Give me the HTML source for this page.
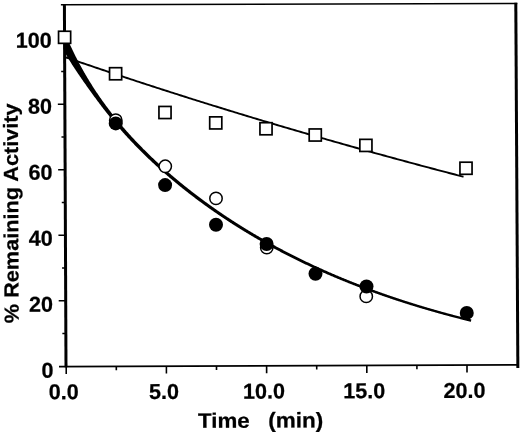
<!DOCTYPE html>
<html><head><meta charset="utf-8"><title>chart</title>
<style>html,body{margin:0;padding:0;background:#fff;}body{width:520px;height:434px;overflow:hidden;font-family:"Liberation Sans",sans-serif;}svg{display:block;}</style>
</head><body>
<svg width="520" height="434" viewBox="0 0 520 434" style="will-change:transform">
<rect width="520" height="434" fill="#fff"/>
<line x1="60.900000000000006" y1="4.71" x2="517.3" y2="3.5" stroke="#000" stroke-width="1.6"/>
<line x1="64.4" y1="4.7" x2="66.0" y2="367.3" stroke="#000" stroke-width="3"/>
<line x1="515.8" y1="2.7" x2="517.8499999999999" y2="368.0" stroke="#000" stroke-width="3"/>
<line x1="59.0" y1="366.53" x2="517.8" y2="364.8" stroke="#000" stroke-width="1.8"/>
<line x1="62.36" y1="333.46" x2="65.86" y2="333.45" stroke="#000" stroke-width="1.6"/>
<line x1="58.71" y1="300.73" x2="65.71" y2="300.70" stroke="#000" stroke-width="1.6"/>
<line x1="62.06" y1="267.96" x2="65.56" y2="267.95" stroke="#000" stroke-width="1.6"/>
<line x1="58.42" y1="235.23" x2="65.42" y2="235.20" stroke="#000" stroke-width="1.6"/>
<line x1="61.78" y1="202.46" x2="65.28" y2="202.45" stroke="#000" stroke-width="1.6"/>
<line x1="58.13" y1="169.73" x2="65.13" y2="169.70" stroke="#000" stroke-width="1.6"/>
<line x1="61.48" y1="136.96" x2="64.98" y2="136.95" stroke="#000" stroke-width="1.6"/>
<line x1="57.84" y1="104.23" x2="64.84" y2="104.20" stroke="#000" stroke-width="1.6"/>
<line x1="61.19" y1="71.46" x2="64.69" y2="71.45" stroke="#000" stroke-width="1.6"/>
<line x1="66.20" y1="366.50" x2="66.23" y2="374.00" stroke="#000" stroke-width="1.6"/>
<line x1="116.30" y1="366.31" x2="116.32" y2="370.31" stroke="#000" stroke-width="1.6"/>
<line x1="166.40" y1="366.12" x2="166.43" y2="373.62" stroke="#000" stroke-width="1.6"/>
<line x1="216.50" y1="365.94" x2="216.52" y2="369.94" stroke="#000" stroke-width="1.6"/>
<line x1="266.60" y1="365.75" x2="266.63" y2="373.25" stroke="#000" stroke-width="1.6"/>
<line x1="316.70" y1="365.56" x2="316.72" y2="369.56" stroke="#000" stroke-width="1.6"/>
<line x1="366.80" y1="365.38" x2="366.83" y2="372.88" stroke="#000" stroke-width="1.6"/>
<line x1="416.90" y1="365.19" x2="416.92" y2="369.19" stroke="#000" stroke-width="1.6"/>
<line x1="467.00" y1="365.00" x2="467.03" y2="372.50" stroke="#000" stroke-width="1.6"/>
<polyline points="65.00,57.05 67.00,57.74 69.00,58.43 71.00,59.12 73.00,59.80 75.00,60.49 77.00,61.18 79.00,61.86 81.00,62.54 83.00,63.23 85.00,63.91 87.00,64.59 89.00,65.27 91.00,65.95 93.00,66.62 95.00,67.30 97.00,67.98 99.00,68.65 101.00,69.32 103.00,70.00 105.00,70.67 107.00,71.34 109.00,72.01 111.00,72.68 113.00,73.35 115.00,74.01 117.00,74.68 119.00,75.34 121.00,76.01 123.00,76.67 125.00,77.33 127.00,77.99 129.00,78.65 131.00,79.31 133.00,79.97 135.00,80.63 137.00,81.29 139.00,81.94 141.00,82.60 143.00,83.25 145.00,83.90 147.00,84.55 149.00,85.20 151.00,85.85 153.00,86.50 155.00,87.15 157.00,87.80 159.00,88.44 161.00,89.09 163.00,89.73 165.00,90.38 167.00,91.02 169.00,91.66 171.00,92.30 173.00,92.94 175.00,93.58 177.00,94.22 179.00,94.85 181.00,95.49 183.00,96.13 185.00,96.76 187.00,97.39 189.00,98.03 191.00,98.66 193.00,99.29 195.00,99.92 197.00,100.55 199.00,101.17 201.00,101.80 203.00,102.43 205.00,103.05 207.00,103.68 209.00,104.30 211.00,104.92 213.00,105.54 215.00,106.16 217.00,106.78 219.00,107.40 221.00,108.02 223.00,108.64 225.00,109.25 227.00,109.87 229.00,110.48 231.00,111.10 233.00,111.71 235.00,112.32 237.00,112.93 239.00,113.54 241.00,114.15 243.00,114.76 245.00,115.37 247.00,115.98 249.00,116.58 251.00,117.19 253.00,117.79 255.00,118.39 257.00,118.99 259.00,119.60 261.00,120.20 263.00,120.80 265.00,121.40 267.00,121.99 269.00,122.59 271.00,123.19 273.00,123.78 275.00,124.38 277.00,124.97 279.00,125.56 281.00,126.15 283.00,126.75 285.00,127.34 287.00,127.93 289.00,128.51 291.00,129.10 293.00,129.69 295.00,130.27 297.00,130.86 299.00,131.44 301.00,132.03 303.00,132.61 305.00,133.19 307.00,133.77 309.00,134.35 311.00,134.93 313.00,135.51 315.00,136.09 317.00,136.67 319.00,137.24 321.00,137.82 323.00,138.39 325.00,138.96 327.00,139.54 329.00,140.11 331.00,140.68 333.00,141.25 335.00,141.82 337.00,142.39 339.00,142.96 341.00,143.52 343.00,144.09 345.00,144.65 347.00,145.22 349.00,145.78 351.00,146.35 353.00,146.91 355.00,147.47 357.00,148.03 359.00,148.59 361.00,149.15 363.00,149.71 365.00,150.26 367.00,150.82 369.00,151.38 371.00,151.93 373.00,152.48 375.00,153.04 377.00,153.59 379.00,154.14 381.00,154.69 383.00,155.24 385.00,155.79 387.00,156.34 389.00,156.89 391.00,157.43 393.00,157.98 395.00,158.53 397.00,159.07 399.00,159.61 401.00,160.16 403.00,160.70 405.00,161.24 407.00,161.78 409.00,162.32 411.00,162.86 413.00,163.40 415.00,163.94 417.00,164.47 419.00,165.01 421.00,165.55 423.00,166.08 425.00,166.61 427.00,167.15 429.00,167.68 431.00,168.21 433.00,168.74 435.00,169.27 437.00,169.80 439.00,170.33 441.00,170.86 443.00,171.38 445.00,171.91 447.00,172.43 449.00,172.96 451.00,173.48 453.00,174.01 455.00,174.53 457.00,175.05 459.00,175.57 461.00,176.09 463.00,176.61 463.50,176.74" fill="none" stroke="#000" stroke-width="1.9"/>
<polygon points="67.30,38.66 67.77,39.74 68.24,40.81 68.72,41.87 69.19,42.92 69.67,43.97 70.14,45.01 70.62,46.04 71.10,47.06 71.57,48.08 72.05,49.09 72.53,50.09 73.01,51.08 73.49,52.07 73.97,53.05 74.45,54.02 74.93,54.99 75.41,55.95 75.89,56.90 76.37,57.85 76.85,58.79 77.33,59.72 77.81,60.65 78.30,61.57 78.78,62.48 79.26,63.39 79.74,64.29 80.23,65.19 80.71,66.08 81.20,66.97 81.68,67.85 82.16,68.72 82.65,69.59 83.13,70.45 83.62,71.31 84.11,72.16 84.59,73.01 85.08,73.85 85.56,74.69 86.05,75.52 86.54,76.34 87.03,77.16 87.51,77.98 88.00,78.79 88.49,79.60 88.98,80.40 89.46,81.20 89.95,81.99 90.44,82.78 90.93,83.56 91.42,84.34 91.91,85.12 92.40,85.89 92.89,86.65 93.38,87.42 93.87,88.17 94.36,88.93 94.85,89.68 95.34,90.42 95.83,91.16 96.32,91.90 96.81,92.63 97.30,93.36 97.79,94.09 98.28,94.81 98.77,95.53 99.26,96.24 99.75,96.96 100.25,97.66 100.74,98.37 101.23,99.07 101.72,99.76 102.21,100.46 102.71,101.15 103.20,101.83 103.69,102.52 104.18,103.20 104.68,103.87 105.17,104.55 105.66,105.22 106.15,105.88 106.65,106.55 107.14,107.21 107.63,107.87 108.13,108.52 108.62,109.17 109.11,109.82 109.61,110.47 110.10,111.11 110.60,111.75 111.09,112.39 111.58,113.02 112.08,113.66 112.57,114.28 113.07,114.91 113.56,115.53 114.05,116.16 114.55,116.77 115.04,117.39 115.54,118.00 116.03,118.61 116.53,119.22 117.02,119.83 117.52,120.43 118.01,121.03 118.51,121.63 119.00,122.22 119.50,122.82 119.99,123.41 120.49,124.00 120.98,124.58 121.48,125.17 121.97,125.75 122.47,126.33 122.96,126.91 123.46,127.48 123.96,128.05 124.45,128.62 124.95,129.19 125.44,129.76 125.94,130.32 126.43,130.89 126.93,131.45 127.43,132.00 127.92,132.56 128.42,133.11 128.91,133.67 129.41,134.22 129.91,134.76 130.40,135.31 130.90,135.85 131.39,136.40 131.89,136.94 132.39,137.47 132.88,138.01 133.38,138.55 133.88,139.08 134.37,139.61 134.87,140.14 135.37,140.67 135.86,141.19 136.36,141.72 136.85,142.24 137.35,142.76 137.85,143.28 138.34,143.80 138.84,144.31 139.34,144.82 139.83,145.34 140.33,145.85 140.83,146.36 141.32,146.86 141.82,147.37 142.32,147.87 142.82,148.38 143.31,148.88 143.81,149.38 144.31,149.87 144.80,150.37 145.30,150.86 145.80,151.36 146.29,151.85 146.79,152.34 147.29,152.83 147.79,153.31 148.28,153.80 148.78,154.28 149.28,154.77 149.77,155.25 150.27,155.73 150.77,156.21 151.27,156.68 151.76,157.16 152.26,157.63 152.76,158.11 153.25,158.58 153.75,159.05 154.25,159.52 154.75,159.99 155.24,160.45 155.74,160.92 156.24,161.38 156.74,161.84 157.23,162.31 157.73,162.76 158.23,163.22 158.73,163.68 159.22,164.14 159.72,164.59 160.22,165.05 160.72,165.50 161.21,165.95 161.71,166.40 162.21,166.85 162.71,167.29 163.20,167.74 163.70,168.19 164.20,168.63 164.70,169.07 165.19,169.51 165.69,169.95 166.19,170.39 166.69,170.83 167.18,171.27 167.68,171.70 168.18,172.14 168.68,172.57 169.18,173.00 169.67,173.44 170.17,173.87 170.67,174.29 171.17,174.72 171.66,175.15 172.16,175.58 172.66,176.00 173.16,176.42 173.66,176.85 174.15,177.27 174.65,177.69 175.15,178.11 175.65,178.53 176.14,178.94 176.64,179.36 177.14,179.77 177.64,180.19 178.14,180.60 178.63,181.01 179.13,181.43 179.63,181.84 180.13,182.25 180.62,182.65 181.12,183.06 181.62,183.47 182.12,183.87 182.62,184.28 183.11,184.68 183.61,185.08 184.11,185.48 184.61,185.88 185.11,186.28 185.60,186.68 186.10,187.08 186.60,187.48 187.10,187.87 187.60,188.27 188.09,188.66 188.59,189.05 189.09,189.45 189.59,189.84 190.09,190.23 190.58,190.62 191.08,191.00 191.58,191.39 192.08,191.78 192.58,192.16 193.07,192.55 193.57,192.93 194.07,193.32 194.57,193.70 195.07,194.08 195.56,194.46 196.06,194.84 196.56,195.22 197.06,195.59 197.56,195.97 198.05,196.35 198.55,196.72 199.05,197.10 199.55,197.47 200.05,197.84 200.54,198.22 201.04,198.59 201.54,198.96 202.04,199.33 202.54,199.69 203.03,200.06 203.53,200.43 204.03,200.80 204.53,201.16 205.03,201.52 205.52,201.89 206.02,202.25 206.52,202.61 207.02,202.97 207.52,203.34 208.02,203.69 208.51,204.05 209.01,204.41 209.51,204.77 210.01,205.13 210.51,205.48 211.00,205.84 211.50,206.19 212.00,206.54 212.50,206.90 213.00,207.25 213.49,207.60 213.99,207.95 214.49,208.30 214.99,208.65 215.49,209.00 215.99,209.34 216.48,209.69 216.98,210.04 217.48,210.38 217.98,210.72 218.48,211.07 218.97,211.41 219.47,211.75 219.97,212.09 220.47,212.43 220.97,212.77 221.47,213.11 221.96,213.45 222.46,213.79 222.96,214.13 223.46,214.46 223.96,214.80 224.46,215.13 224.95,215.47 225.45,215.80 225.95,216.13 226.45,216.47 226.95,216.80 227.44,217.13 227.94,217.46 228.44,217.79 228.94,218.12 229.44,218.44 229.94,218.77 230.43,219.10 230.93,219.42 231.43,219.75 231.93,220.07 232.43,220.40 232.93,220.72 233.42,221.04 233.92,221.36 234.42,221.68 234.92,222.00 235.42,222.32 235.91,222.64 236.41,222.96 236.91,223.28 237.41,223.60 237.91,223.91 238.41,224.23 238.90,224.54 239.40,224.86 239.90,225.17 240.40,225.48 240.90,225.80 241.40,226.11 241.89,226.42 242.39,226.73 242.89,227.04 243.39,227.35 243.89,227.66 244.39,227.96 244.88,228.27 245.38,228.58 245.88,228.88 246.38,229.19 246.88,229.49 247.38,229.80 247.87,230.10 248.37,230.41 248.87,230.71 249.37,231.01 249.87,231.31 250.37,231.61 250.86,231.91 251.36,232.21 251.86,232.51 252.36,232.81 252.86,233.10 253.36,233.40 253.85,233.70 254.35,233.99 254.85,234.29 255.35,234.58 255.85,234.87 256.35,235.17 256.84,235.46 257.34,235.75 257.84,236.04 258.34,236.33 258.84,236.62 259.34,236.91 259.84,237.20 260.33,237.49 260.83,237.78 261.33,238.06 261.83,238.35 262.33,238.64 262.83,238.92 263.32,239.21 263.82,239.49 264.32,239.77 264.82,240.06 265.32,240.34 265.82,240.62 266.31,240.90 266.81,241.18 267.31,241.46 267.81,241.74 268.31,242.02 268.81,242.30 269.31,242.58 269.80,242.86 270.30,243.13 270.80,243.41 271.30,243.68 271.80,243.96 272.30,244.23 272.79,244.51 273.29,244.78 273.79,245.05 274.29,245.33 274.79,245.60 275.29,245.87 275.79,246.14 276.28,246.41 276.78,246.68 277.28,246.95 277.78,247.22 278.28,247.48 278.78,247.75 279.27,248.02 279.77,248.29 280.27,248.55 280.77,248.82 281.27,249.08 281.77,249.34 282.27,249.61 282.76,249.87 283.26,250.13 283.76,250.40 284.26,250.66 284.76,250.92 285.26,251.18 285.76,251.44 286.25,251.70 286.75,251.96 287.25,252.22 287.75,252.47 288.25,252.73 288.75,252.99 289.25,253.24 289.74,253.50 290.24,253.75 290.74,254.01 291.24,254.26 291.74,254.52 292.24,254.77 292.74,255.02 293.23,255.27 293.73,255.53 294.23,255.78 294.73,256.03 295.23,256.28 295.73,256.53 296.23,256.78 296.72,257.03 297.22,257.27 297.72,257.52 298.22,257.77 298.72,258.01 299.22,258.26 299.72,258.51 300.21,258.75 300.71,259.00 301.21,259.24 301.71,259.48 302.21,259.73 302.71,259.97 303.21,260.21 303.70,260.45 304.20,260.70 304.70,260.94 305.20,261.18 305.70,261.42 306.20,261.65 306.70,261.89 307.19,262.13 307.69,262.37 308.19,262.61 308.69,262.84 309.19,263.08 309.69,263.32 310.19,263.55 310.69,263.79 311.18,264.02 311.68,264.26 312.18,264.49 312.68,264.72 313.18,264.95 313.68,265.19 314.18,265.42 314.67,265.65 315.17,265.88 315.67,266.11 316.17,266.34 316.67,266.57 317.17,266.80 317.67,267.03 318.17,267.26 318.66,267.48 319.16,267.71 319.66,267.94 320.16,268.16 320.66,268.39 321.16,268.61 321.66,268.84 322.16,269.06 322.65,269.29 323.15,269.51 323.65,269.73 324.15,269.96 324.65,270.18 325.15,270.40 325.65,270.62 326.15,270.84 326.64,271.06 327.14,271.28 327.64,271.50 328.14,271.72 328.64,271.94 329.14,272.16 329.64,272.38 330.14,272.59 330.63,272.81 331.13,273.03 331.63,273.24 332.13,273.46 332.63,273.67 333.13,273.89 333.63,274.10 334.13,274.32 334.62,274.53 335.12,274.74 335.62,274.95 336.12,275.17 336.62,275.38 337.12,275.59 337.62,275.80 338.12,276.01 338.61,276.22 339.11,276.43 339.61,276.64 340.11,276.85 340.61,277.06 341.11,277.26 341.61,277.47 342.11,277.68 342.61,277.89 343.10,278.09 343.60,278.30 344.10,278.50 344.60,278.71 345.10,278.91 345.60,279.12 346.10,279.32 346.60,279.52 347.09,279.73 347.59,279.93 348.09,280.13 348.59,280.33 349.09,280.54 349.59,280.74 350.09,280.94 350.59,281.14 351.09,281.34 351.58,281.54 352.08,281.73 352.58,281.93 353.08,282.13 353.58,282.33 354.08,282.53 354.58,282.72 355.08,282.92 355.58,283.12 356.07,283.31 356.57,283.51 357.07,283.70 357.57,283.90 358.07,284.09 358.57,284.29 359.07,284.48 359.57,284.67 360.07,284.86 360.56,285.06 361.06,285.25 361.56,285.44 362.06,285.63 362.56,285.82 363.06,286.01 363.56,286.20 364.06,286.39 364.56,286.58 365.05,286.77 365.55,286.96 366.05,287.15 366.55,287.33 367.05,287.52 367.55,287.71 368.05,287.90 368.55,288.08 369.05,288.27 369.55,288.45 370.04,288.64 370.54,288.82 371.04,289.01 371.54,289.19 372.04,289.37 372.54,289.56 373.04,289.74 373.54,289.92 374.04,290.11 374.54,290.29 375.03,290.47 375.53,290.65 376.03,290.83 376.53,291.01 377.03,291.19 377.53,291.37 378.03,291.55 378.53,291.73 379.03,291.91 379.53,292.09 380.02,292.26 380.52,292.44 381.02,292.62 381.52,292.79 382.02,292.97 382.52,293.15 383.02,293.32 383.52,293.50 384.02,293.67 384.52,293.85 385.01,294.02 385.51,294.20 386.01,294.37 386.51,294.54 387.01,294.72 387.51,294.89 388.01,295.06 388.51,295.23 389.01,295.40 389.51,295.58 390.01,295.75 390.50,295.92 391.00,296.09 391.50,296.26 392.00,296.43 392.50,296.60 393.00,296.76 393.50,296.93 394.00,297.10 394.50,297.27 395.00,297.44 395.49,297.60 395.99,297.77 396.49,297.94 396.99,298.10 397.49,298.27 397.99,298.43 398.49,298.60 398.99,298.76 399.49,298.93 399.99,299.09 400.49,299.26 400.99,299.42 401.48,299.58 401.98,299.75 402.48,299.91 402.98,300.07 403.48,300.23 403.98,300.39 404.48,300.55 404.98,300.72 405.48,300.88 405.98,301.04 406.48,301.20 406.97,301.36 407.47,301.52 407.97,301.67 408.47,301.83 408.97,301.99 409.47,302.15 409.97,302.31 410.47,302.46 410.97,302.62 411.47,302.78 411.97,302.93 412.47,303.09 412.96,303.25 413.46,303.40 413.96,303.56 414.46,303.71 414.96,303.87 415.46,304.02 415.96,304.17 416.46,304.33 416.96,304.48 417.46,304.63 417.96,304.79 418.46,304.94 418.95,305.09 419.45,305.24 419.95,305.40 420.45,305.55 420.95,305.70 421.45,305.85 421.95,306.00 422.45,306.15 422.95,306.30 423.45,306.45 423.95,306.60 424.45,306.75 424.94,306.89 425.44,307.04 425.94,307.19 426.44,307.34 426.94,307.48 427.44,307.63 427.94,307.78 428.44,307.92 428.94,308.07 429.44,308.22 429.94,308.36 430.44,308.51 430.94,308.65 431.43,308.80 431.93,308.94 432.43,309.09 432.93,309.23 433.43,309.37 433.93,309.52 434.43,309.66 434.93,309.80 435.43,309.94 435.93,310.09 436.43,310.23 436.93,310.37 437.43,310.51 437.93,310.65 438.42,310.79 438.92,310.93 439.42,311.07 439.92,311.21 440.42,311.35 440.92,311.49 441.42,311.63 441.92,311.77 442.42,311.91 442.92,312.05 443.42,312.18 443.92,312.32 444.42,312.46 444.92,312.60 445.41,312.73 445.91,312.87 446.41,313.00 446.91,313.14 447.41,313.28 447.91,313.41 448.41,313.55 448.91,313.68 449.41,313.82 449.91,313.95 450.41,314.08 450.91,314.22 451.41,314.35 451.91,314.49 452.40,314.62 452.90,314.75 453.40,314.88 453.90,315.02 454.40,315.15 454.90,315.28 455.40,315.41 455.90,315.54 456.40,315.67 456.90,315.80 457.40,315.93 457.90,316.06 458.40,316.19 458.90,316.32 459.40,316.45 459.89,316.58 460.39,316.71 460.89,316.84 461.39,316.97 461.89,317.09 462.39,317.22 462.89,317.35 463.39,317.48 463.89,317.60 464.39,317.73 464.89,317.86 465.39,317.98 465.89,318.11 466.39,318.24 466.89,318.36 467.38,318.49 467.88,318.61 468.38,318.74 468.88,318.86 469.38,318.98 469.88,319.11 470.38,319.23 470.88,319.36 471.38,319.48 470.82,321.76 470.32,321.63 469.82,321.51 469.32,321.39 468.82,321.26 468.32,321.14 467.82,321.02 467.32,320.89 466.82,320.77 466.31,320.64 465.81,320.52 465.31,320.39 464.81,320.27 464.31,320.14 463.81,320.02 463.31,319.89 462.81,319.76 462.31,319.64 461.81,319.51 461.31,319.38 460.81,319.26 460.31,319.13 459.81,319.00 459.31,318.87 458.80,318.74 458.30,318.61 457.80,318.48 457.30,318.36 456.80,318.23 456.30,318.10 455.80,317.97 455.30,317.84 454.80,317.71 454.30,317.57 453.80,317.44 453.30,317.31 452.80,317.18 452.30,317.05 451.80,316.92 451.29,316.78 450.79,316.65 450.29,316.52 449.79,316.38 449.29,316.25 448.79,316.12 448.29,315.98 447.79,315.85 447.29,315.71 446.79,315.58 446.29,315.44 445.79,315.31 445.29,315.17 444.79,315.04 444.28,314.90 443.78,314.77 443.28,314.63 442.78,314.49 442.28,314.35 441.78,314.22 441.28,314.08 440.78,313.94 440.28,313.80 439.78,313.66 439.28,313.52 438.78,313.39 438.28,313.25 437.78,313.11 437.27,312.97 436.77,312.83 436.27,312.69 435.77,312.54 435.27,312.40 434.77,312.26 434.27,312.12 433.77,311.98 433.27,311.84 432.77,311.69 432.27,311.55 431.77,311.41 431.27,311.26 430.77,311.12 430.26,310.98 429.76,310.83 429.26,310.69 428.76,310.54 428.26,310.40 427.76,310.25 427.26,310.10 426.76,309.96 426.26,309.81 425.76,309.67 425.26,309.52 424.76,309.37 424.26,309.22 423.75,309.08 423.25,308.93 422.75,308.78 422.25,308.63 421.75,308.48 421.25,308.33 420.75,308.18 420.25,308.03 419.75,307.88 419.25,307.73 418.75,307.58 418.25,307.43 417.74,307.28 417.24,307.13 416.74,306.98 416.24,306.82 415.74,306.67 415.24,306.52 414.74,306.36 414.24,306.21 413.74,306.06 413.24,305.90 412.74,305.75 412.24,305.59 411.73,305.44 411.23,305.28 410.73,305.13 410.23,304.97 409.73,304.81 409.23,304.66 408.73,304.50 408.23,304.34 407.73,304.19 407.23,304.03 406.73,303.87 406.23,303.71 405.72,303.55 405.22,303.39 404.72,303.23 404.22,303.07 403.72,302.91 403.22,302.75 402.72,302.59 402.22,302.43 401.72,302.27 401.22,302.11 400.72,301.94 400.21,301.78 399.71,301.62 399.21,301.46 398.71,301.29 398.21,301.13 397.71,300.97 397.21,300.80 396.71,300.64 396.21,300.47 395.71,300.31 395.21,300.14 394.71,299.97 394.20,299.81 393.70,299.64 393.20,299.47 392.70,299.31 392.20,299.14 391.70,298.97 391.20,298.80 390.70,298.63 390.20,298.46 389.70,298.29 389.19,298.12 388.69,297.95 388.19,297.78 387.69,297.61 387.19,297.44 386.69,297.27 386.19,297.10 385.69,296.93 385.19,296.75 384.69,296.58 384.19,296.41 383.68,296.23 383.18,296.06 382.68,295.89 382.18,295.71 381.68,295.54 381.18,295.36 380.68,295.19 380.18,295.01 379.68,294.83 379.18,294.66 378.67,294.48 378.17,294.30 377.67,294.12 377.17,293.95 376.67,293.77 376.17,293.59 375.67,293.41 375.17,293.23 374.67,293.05 374.17,292.87 373.66,292.69 373.16,292.51 372.66,292.33 372.16,292.14 371.66,291.96 371.16,291.78 370.66,291.60 370.16,291.41 369.66,291.23 369.16,291.05 368.65,290.86 368.15,290.68 367.65,290.49 367.15,290.31 366.65,290.12 366.15,289.93 365.65,289.75 365.15,289.56 364.65,289.37 364.15,289.19 363.64,289.00 363.14,288.81 362.64,288.62 362.14,288.43 361.64,288.24 361.14,288.05 360.64,287.86 360.14,287.67 359.64,287.48 359.13,287.29 358.63,287.10 358.13,286.90 357.63,286.71 357.13,286.52 356.63,286.32 356.13,286.13 355.63,285.94 355.13,285.74 354.62,285.55 354.12,285.35 353.62,285.16 353.12,284.96 352.62,284.76 352.12,284.57 351.62,284.37 351.12,284.17 350.62,283.97 350.11,283.77 349.61,283.58 349.11,283.38 348.61,283.18 348.11,282.98 347.61,282.78 347.11,282.57 346.61,282.37 346.11,282.17 345.60,281.97 345.10,281.77 344.60,281.56 344.10,281.36 343.60,281.16 343.10,280.95 342.60,280.75 342.10,280.54 341.59,280.34 341.09,280.13 340.59,279.92 340.09,279.72 339.59,279.51 339.09,279.30 338.59,279.09 338.09,278.89 337.59,278.68 337.08,278.47 336.58,278.26 336.08,278.05 335.58,277.84 335.08,277.63 334.58,277.42 334.08,277.20 333.58,276.99 333.07,276.78 332.57,276.57 332.07,276.35 331.57,276.14 331.07,275.92 330.57,275.71 330.07,275.49 329.57,275.28 329.06,275.06 328.56,274.85 328.06,274.63 327.56,274.41 327.06,274.19 326.56,273.98 326.06,273.76 325.56,273.54 325.05,273.32 324.55,273.10 324.05,272.88 323.55,272.66 323.05,272.43 322.55,272.21 322.05,271.99 321.55,271.77 321.04,271.54 320.54,271.32 320.04,271.10 319.54,270.87 319.04,270.65 318.54,270.42 318.04,270.20 317.54,269.97 317.03,269.74 316.53,269.52 316.03,269.29 315.53,269.06 315.03,268.83 314.53,268.60 314.03,268.37 313.53,268.14 313.02,267.91 312.52,267.68 312.02,267.45 311.52,267.22 311.02,266.98 310.52,266.75 310.02,266.52 309.51,266.28 309.01,266.05 308.51,265.81 308.01,265.58 307.51,265.34 307.01,265.11 306.51,264.87 306.01,264.63 305.50,264.40 305.00,264.16 304.50,263.92 304.00,263.68 303.50,263.44 303.00,263.20 302.50,262.96 301.99,262.72 301.49,262.48 300.99,262.24 300.49,261.99 299.99,261.75 299.49,261.51 298.99,261.26 298.48,261.02 297.98,260.77 297.48,260.53 296.98,260.28 296.48,260.03 295.98,259.79 295.48,259.54 294.97,259.29 294.47,259.04 293.97,258.79 293.47,258.55 292.97,258.30 292.47,258.04 291.97,257.79 291.46,257.54 290.96,257.29 290.46,257.04 289.96,256.78 289.46,256.53 288.96,256.28 288.46,256.02 287.95,255.77 287.45,255.51 286.95,255.26 286.45,255.00 285.95,254.74 285.45,254.48 284.95,254.23 284.44,253.97 283.94,253.71 283.44,253.45 282.94,253.19 282.44,252.93 281.94,252.66 281.44,252.40 280.93,252.14 280.43,251.88 279.93,251.61 279.43,251.35 278.93,251.08 278.43,250.82 277.93,250.55 277.42,250.29 276.92,250.02 276.42,249.75 275.92,249.48 275.42,249.22 274.92,248.95 274.41,248.68 273.91,248.41 273.41,248.14 272.91,247.86 272.41,247.59 271.91,247.32 271.41,247.05 270.90,246.77 270.40,246.50 269.90,246.23 269.40,245.95 268.90,245.67 268.40,245.40 267.89,245.12 267.39,244.84 266.89,244.57 266.39,244.29 265.89,244.01 265.39,243.73 264.89,243.45 264.38,243.17 263.88,242.89 263.38,242.60 262.88,242.32 262.38,242.04 261.88,241.75 261.37,241.47 260.87,241.18 260.37,240.90 259.87,240.61 259.37,240.33 258.87,240.04 258.36,239.75 257.86,239.46 257.36,239.17 256.86,238.88 256.36,238.59 255.86,238.30 255.36,238.01 254.85,237.72 254.35,237.43 253.85,237.13 253.35,236.84 252.85,236.54 252.35,236.25 251.84,235.95 251.34,235.66 250.84,235.36 250.34,235.06 249.84,234.76 249.34,234.46 248.83,234.16 248.33,233.86 247.83,233.56 247.33,233.26 246.83,232.96 246.33,232.66 245.82,232.35 245.32,232.05 244.82,231.75 244.32,231.44 243.82,231.13 243.32,230.83 242.81,230.52 242.31,230.21 241.81,229.90 241.31,229.60 240.81,229.29 240.31,228.98 239.80,228.66 239.30,228.35 238.80,228.04 238.30,227.73 237.80,227.41 237.30,227.10 236.79,226.78 236.29,226.47 235.79,226.15 235.29,225.84 234.79,225.52 234.29,225.20 233.78,224.88 233.28,224.56 232.78,224.24 232.28,223.92 231.78,223.60 231.27,223.28 230.77,222.95 230.27,222.63 229.77,222.30 229.27,221.98 228.77,221.65 228.26,221.33 227.76,221.00 227.26,220.67 226.76,220.34 226.26,220.01 225.76,219.68 225.25,219.35 224.75,219.02 224.25,218.69 223.75,218.36 223.25,218.02 222.74,217.69 222.24,217.35 221.74,217.02 221.24,216.68 220.74,216.35 220.24,216.01 219.73,215.67 219.23,215.33 218.73,214.99 218.23,214.65 217.73,214.31 217.23,213.96 216.72,213.62 216.22,213.28 215.72,212.93 215.22,212.59 214.72,212.24 214.21,211.89 213.71,211.55 213.21,211.20 212.71,210.85 212.21,210.50 211.71,210.15 211.20,209.80 210.70,209.45 210.20,209.09 209.70,208.74 209.20,208.38 208.69,208.03 208.19,207.67 207.69,207.32 207.19,206.96 206.69,206.60 206.18,206.24 205.68,205.88 205.18,205.52 204.68,205.16 204.18,204.80 203.68,204.43 203.17,204.07 202.67,203.70 202.17,203.34 201.67,202.97 201.17,202.60 200.66,202.24 200.16,201.87 199.66,201.50 199.16,201.13 198.66,200.75 198.15,200.38 197.65,200.01 197.15,199.63 196.65,199.26 196.15,198.88 195.64,198.51 195.14,198.13 194.64,197.75 194.14,197.37 193.64,196.99 193.13,196.61 192.63,196.23 192.13,195.85 191.63,195.46 191.13,195.08 190.62,194.69 190.12,194.31 189.62,193.92 189.12,193.53 188.62,193.14 188.11,192.75 187.61,192.36 187.11,191.97 186.61,191.58 186.11,191.18 185.60,190.79 185.10,190.39 184.60,190.00 184.10,189.60 183.60,189.20 183.09,188.80 182.59,188.40 182.09,188.00 181.59,187.60 181.09,187.19 180.58,186.79 180.08,186.39 179.58,185.98 179.08,185.57 178.58,185.16 178.07,184.75 177.57,184.34 177.07,183.93 176.57,183.52 176.06,183.11 175.56,182.69 175.06,182.28 174.56,181.86 174.06,181.45 173.55,181.03 173.05,180.61 172.55,180.19 172.05,179.77 171.54,179.34 171.04,178.92 170.54,178.49 170.04,178.07 169.54,177.64 169.03,177.21 168.53,176.79 168.03,176.36 167.53,175.92 167.02,175.49 166.52,175.06 166.02,174.62 165.52,174.19 165.02,173.75 164.51,173.31 164.01,172.87 163.51,172.43 163.01,171.99 162.50,171.55 162.00,171.11 161.50,170.66 161.00,170.21 160.49,169.77 159.99,169.32 159.49,168.87 158.99,168.42 158.48,167.97 157.98,167.51 157.48,167.06 156.98,166.60 156.47,166.14 155.97,165.68 155.47,165.23 154.97,164.76 154.46,164.30 153.96,163.84 153.46,163.37 152.96,162.91 152.45,162.44 151.95,161.97 151.45,161.50 150.95,161.03 150.44,160.56 149.94,160.08 149.44,159.60 148.93,159.13 148.43,158.65 147.93,158.17 147.43,157.69 146.92,157.21 146.42,156.72 145.92,156.24 145.41,155.75 144.91,155.26 144.41,154.77 143.91,154.28 143.40,153.79 142.90,153.29 142.40,152.79 141.89,152.30 141.39,151.80 140.89,151.30 140.38,150.80 139.88,150.29 139.38,149.79 138.88,149.28 138.37,148.77 137.87,148.26 137.37,147.75 136.86,147.23 136.36,146.72 135.86,146.20 135.35,145.68 134.85,145.16 134.35,144.64 133.84,144.12 133.34,143.59 132.83,143.07 132.33,142.54 131.83,142.01 131.32,141.47 130.82,140.94 130.32,140.40 129.81,139.87 129.31,139.33 128.81,138.78 128.30,138.24 127.80,137.69 127.29,137.15 126.79,136.60 126.29,136.05 125.78,135.49 125.28,134.94 124.77,134.38 124.27,133.82 123.77,133.26 123.26,132.70 122.76,132.13 122.25,131.56 121.75,130.99 121.24,130.42 120.74,129.85 120.23,129.27 119.73,128.69 119.23,128.11 118.72,127.53 118.22,126.94 117.71,126.36 117.21,125.77 116.70,125.17 116.19,124.58 115.69,123.98 115.18,123.38 114.68,122.78 114.17,122.18 113.67,121.57 113.16,120.96 112.65,120.35 112.15,119.74 111.64,119.12 111.13,118.50 110.63,117.88 110.12,117.26 109.61,116.63 109.11,116.00 108.60,115.37 108.09,114.73 107.58,114.09 107.07,113.45 106.56,112.81 106.05,112.16 105.54,111.51 105.03,110.86 104.52,110.20 104.01,109.55 103.50,108.88 102.99,108.22 102.47,107.55 101.96,106.88 101.44,106.21 100.93,105.53 100.41,104.85 99.90,104.17 99.38,103.48 98.86,102.79 98.34,102.10 97.82,101.40 97.30,100.70 96.78,100.00 96.25,99.29 95.73,98.58 95.20,97.86 94.67,97.14 94.14,96.42 93.61,95.70 93.08,94.97 92.55,94.23 92.01,93.50 91.48,92.76 90.94,92.01 90.40,91.26 89.86,90.51 89.31,89.75 88.77,88.99 88.22,88.23 87.67,87.46 87.12,86.68 86.57,85.91 86.01,85.12 85.46,84.34 84.90,83.54 84.34,82.75 83.78,81.95 83.21,81.14 82.65,80.33 82.08,79.52 81.51,78.70 80.94,77.87 80.37,77.04 79.80,76.21 79.23,75.37 78.65,74.53 78.07,73.68 77.50,72.82 76.92,71.96 76.34,71.09 75.76,70.22 75.18,69.35 74.60,68.46 74.02,67.57 73.44,66.68 72.86,65.78 72.28,64.88 71.70,63.96 71.12,63.05 70.54,62.12 69.97,61.19 69.39,60.26 68.82,59.31 68.25,58.36 67.68,57.41 67.11,56.45 66.54,55.48 65.98,54.50 65.42,53.52 64.86,52.53 64.30,51.53 64.00,50.53 64.00,49.52 64.00,48.50 64.00,47.47 64.00,46.44 64.00,45.40 64.00,44.35 64.00,43.29 64.00,42.23 64.00,41.16" fill="#000"/>
<rect x="58.55" y="31.25" width="12.10" height="12.10" fill="#fff" stroke="#000" stroke-width="1.7"/>
<rect x="109.55" y="67.70" width="12.10" height="12.10" fill="#fff" stroke="#000" stroke-width="1.7"/>
<rect x="158.95" y="106.45" width="12.10" height="12.10" fill="#fff" stroke="#000" stroke-width="1.7"/>
<rect x="209.70" y="116.85" width="12.10" height="12.10" fill="#fff" stroke="#000" stroke-width="1.7"/>
<rect x="259.95" y="122.70" width="12.10" height="12.10" fill="#fff" stroke="#000" stroke-width="1.7"/>
<rect x="309.20" y="128.95" width="12.10" height="12.10" fill="#fff" stroke="#000" stroke-width="1.7"/>
<rect x="359.85" y="139.35" width="12.10" height="12.10" fill="#fff" stroke="#000" stroke-width="1.7"/>
<rect x="459.95" y="162.20" width="12.10" height="12.10" fill="#fff" stroke="#000" stroke-width="1.7"/>
<circle cx="115.75" cy="120.20" r="6.20" fill="#fff" stroke="#000" stroke-width="1.5"/>
<circle cx="115.75" cy="123.40" r="7.00" fill="#000"/>
<circle cx="165.25" cy="166.30" r="6.20" fill="#fff" stroke="#000" stroke-width="1.5"/>
<circle cx="165.10" cy="185.10" r="7.00" fill="#000"/>
<circle cx="216.00" cy="198.40" r="6.20" fill="#fff" stroke="#000" stroke-width="1.5"/>
<circle cx="216.00" cy="224.80" r="7.00" fill="#000"/>
<circle cx="266.75" cy="247.60" r="6.20" fill="#fff" stroke="#000" stroke-width="1.5"/>
<circle cx="266.60" cy="244.00" r="7.00" fill="#000"/>
<circle cx="315.50" cy="273.75" r="7.00" fill="#000"/>
<circle cx="366.25" cy="296.40" r="6.20" fill="#fff" stroke="#000" stroke-width="1.5"/>
<circle cx="366.50" cy="286.50" r="7.00" fill="#000"/>
<circle cx="466.75" cy="312.90" r="7.00" fill="#000"/>
<text font-family="Liberation Sans, sans-serif" font-weight="bold" stroke="#000" stroke-width="0.25" stroke-linejoin="round" font-size="21.6" text-anchor="end" transform="translate(53.40 377.70) rotate(-0.25) scale(1.0 1.0)">0</text>
<text font-family="Liberation Sans, sans-serif" font-weight="bold" stroke="#000" stroke-width="0.25" stroke-linejoin="round" font-size="21.6" text-anchor="end" transform="translate(53.07 311.70) rotate(-0.25) scale(1.0 1.0)">20</text>
<text font-family="Liberation Sans, sans-serif" font-weight="bold" stroke="#000" stroke-width="0.25" stroke-linejoin="round" font-size="21.6" text-anchor="end" transform="translate(52.74 245.70) rotate(-0.25) scale(1.0 1.0)">40</text>
<text font-family="Liberation Sans, sans-serif" font-weight="bold" stroke="#000" stroke-width="0.25" stroke-linejoin="round" font-size="21.6" text-anchor="end" transform="translate(52.41 179.70) rotate(-0.25) scale(1.0 1.0)">60</text>
<text font-family="Liberation Sans, sans-serif" font-weight="bold" stroke="#000" stroke-width="0.25" stroke-linejoin="round" font-size="21.6" text-anchor="end" transform="translate(52.08 113.70) rotate(-0.25) scale(1.0 1.0)">80</text>
<text font-family="Liberation Sans, sans-serif" font-weight="bold" stroke="#000" stroke-width="0.25" stroke-linejoin="round" font-size="21.6" text-anchor="end" transform="translate(51.75 47.70) rotate(-0.25) scale(1.0 1.0)">100</text>
<text font-family="Liberation Sans, sans-serif" font-weight="bold" stroke="#000" stroke-width="0.25" stroke-linejoin="round" font-size="21.6" text-anchor="middle" transform="translate(63.70 399.30) rotate(-0.25) scale(1.0 1.0)">0.0</text>
<text font-family="Liberation Sans, sans-serif" font-weight="bold" stroke="#000" stroke-width="0.25" stroke-linejoin="round" font-size="21.6" text-anchor="middle" transform="translate(163.90 398.95) rotate(-0.25) scale(1.0 1.0)">5.0</text>
<text font-family="Liberation Sans, sans-serif" font-weight="bold" stroke="#000" stroke-width="0.25" stroke-linejoin="round" font-size="21.6" text-anchor="middle" transform="translate(264.10 398.60) rotate(-0.25) scale(1.0 1.0)">10.0</text>
<text font-family="Liberation Sans, sans-serif" font-weight="bold" stroke="#000" stroke-width="0.25" stroke-linejoin="round" font-size="21.6" text-anchor="middle" transform="translate(364.30 398.25) rotate(-0.25) scale(1.0 1.0)">15.0</text>
<text font-family="Liberation Sans, sans-serif" font-weight="bold" stroke="#000" stroke-width="0.25" stroke-linejoin="round" font-size="21.6" text-anchor="middle" transform="translate(464.50 397.90) rotate(-0.25) scale(1.0 1.0)">20.0</text>
<text font-family="Liberation Sans, sans-serif" font-weight="bold" stroke="#000" stroke-width="0.25" stroke-linejoin="round" font-size="21.4" text-anchor="start" transform="translate(198.00 427.80) rotate(-0.25) scale(1.045 0.97)">Time</text>
<text font-family="Liberation Sans, sans-serif" font-weight="bold" stroke="#000" stroke-width="0.25" stroke-linejoin="round" font-size="21.4" text-anchor="start" transform="translate(268.20 427.60) rotate(-0.25) scale(1.055 1.0)">(min)</text>
<text font-family="Liberation Sans, sans-serif" font-weight="bold" stroke="#000" stroke-width="0.25" stroke-linejoin="round" font-size="21.7" text-anchor="middle" transform="translate(18.20 213.30) rotate(-90.25) scale(1.0 0.94)">% Remaining Activity</text>
</svg>
</body></html>
